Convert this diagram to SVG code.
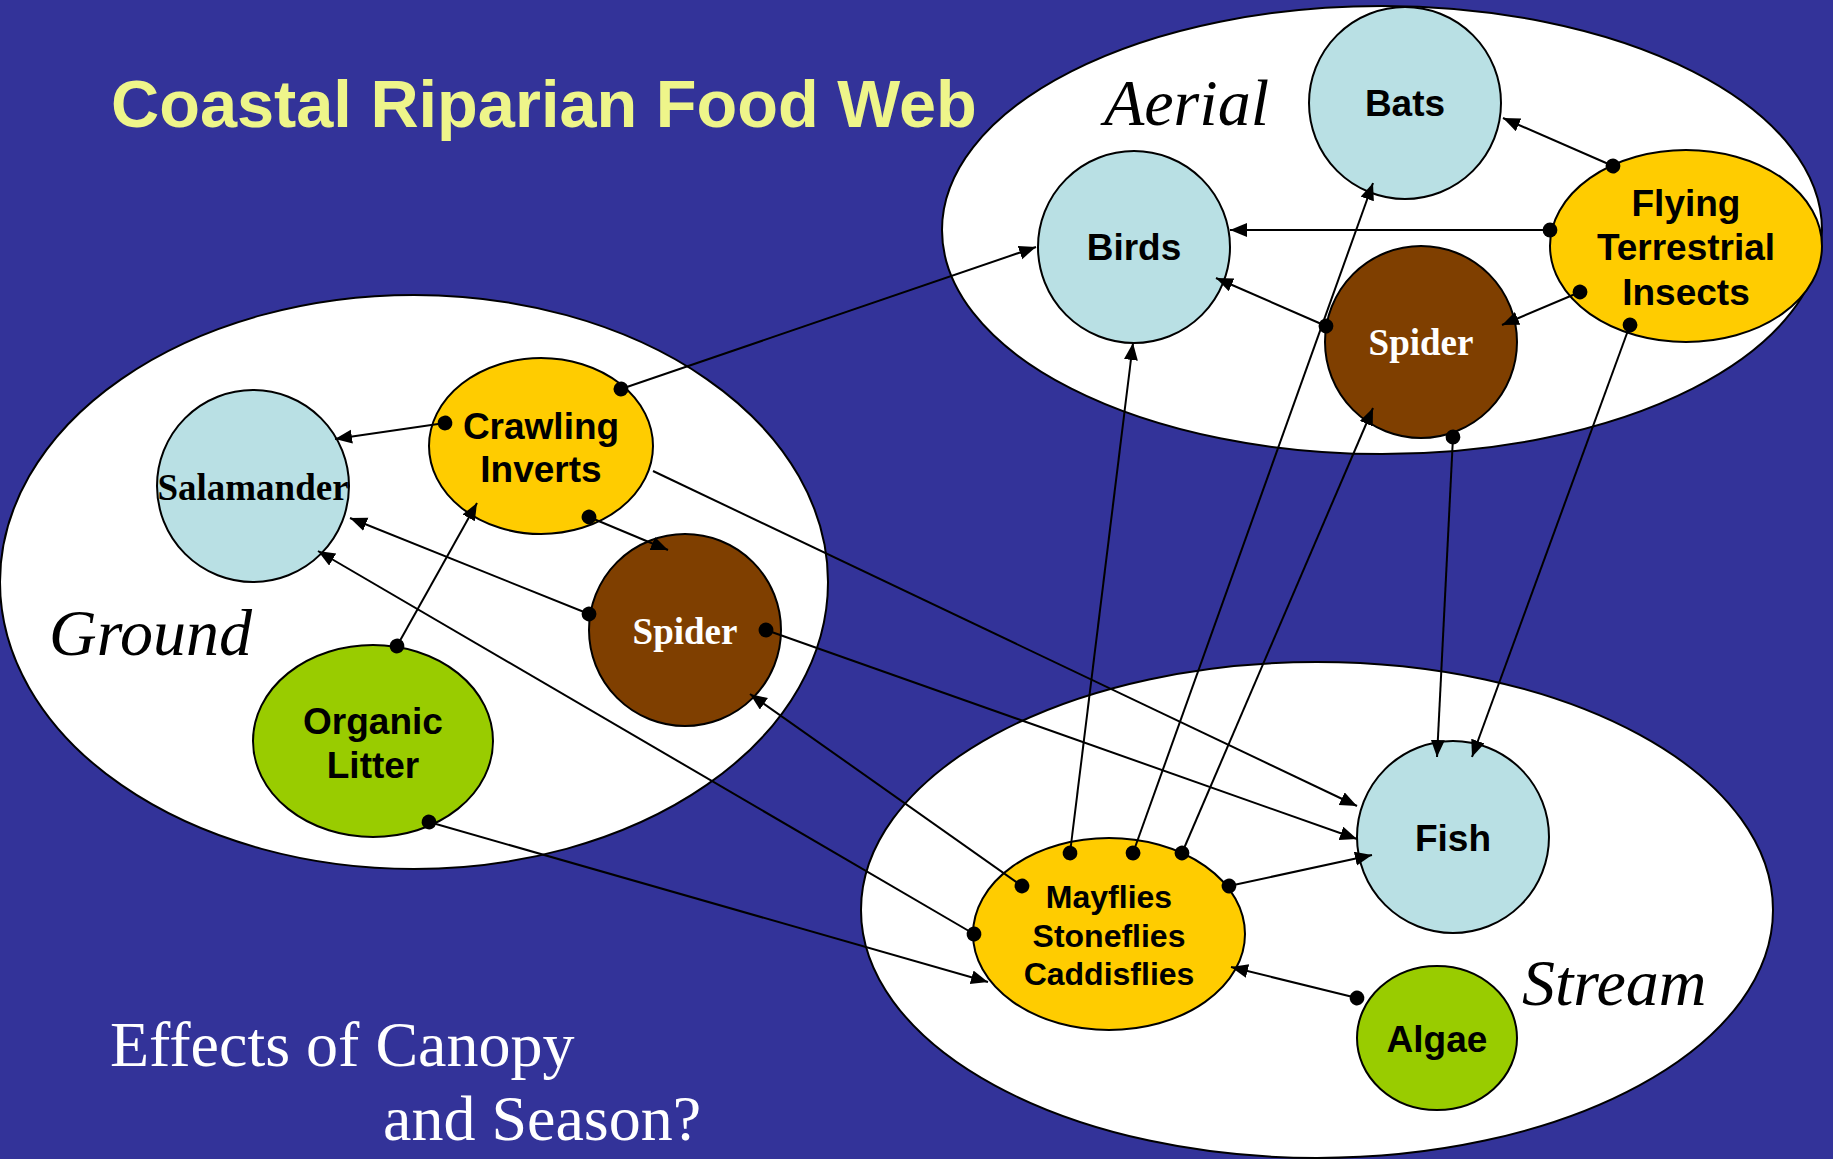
<svg xmlns="http://www.w3.org/2000/svg" width="1833" height="1159" viewBox="0 0 1833 1159">
  <defs>
    <marker id="arrow" markerUnits="userSpaceOnUse" markerWidth="20" markerHeight="16" refX="17" refY="7" orient="auto">
      <path d="M0,0 L17,7 L0,14 Z" fill="#000"/>
    </marker>
    <marker id="dot" markerUnits="userSpaceOnUse" markerWidth="18" markerHeight="18" refX="9" refY="9" orient="auto">
      <circle cx="9" cy="9" r="7.4" fill="#000"/>
    </marker>
  </defs>
  <style>
    .zone { fill: #ffffff; stroke: #000; stroke-width: 2; }
    .zlabel { font-family: "Liberation Serif", "Times New Roman", serif; font-style: italic; font-size: 66px; fill: #000; }
    .node { stroke: #000; stroke-width: 2; }
    .consumer { fill: #b9e0e4; }
    .insect { fill: #ffcc00; }
    .spider { fill: #7f3f00; }
    .plant { fill: #99cc00; }
    .lbl { font-family: "Liberation Sans", Arial, sans-serif; font-weight: bold; font-size: 37px; fill: #000; text-anchor: middle; }
    .lbl-s { font-size: 32px; }
    .serif { font-family: "Liberation Serif", "Times New Roman", serif; font-weight: bold; font-size: 37px; text-anchor: middle; }
    .link { stroke: #000; stroke-width: 2; fill: none; marker-end: url(#arrow); }
    .src { marker-start: url(#dot); }
  </style>

  <!-- background -->
  <rect width="1833" height="1159" fill="#333399"/>

  <!-- title -->
  <text x="111" y="127" font-family="Liberation Sans, Arial, sans-serif" font-weight="bold" font-size="66.7" fill="#eef58a">Coastal Riparian Food Web</text>

  <!-- habitat zones -->
  <g id="zone-aerial">
    <ellipse class="zone" cx="1382" cy="230" rx="440" ry="224"/>
    <text class="zlabel" x="1104" y="125">Aerial</text>
  </g>
  <g id="zone-ground">
    <ellipse class="zone" cx="414" cy="582" rx="414" ry="287"/>
    <text class="zlabel" x="49" y="655">Ground</text>
  </g>
  <g id="zone-stream">
    <ellipse class="zone" cx="1317" cy="910" rx="456" ry="248"/>
    <text class="zlabel" x="1522" y="1005">Stream</text>
  </g>

  <!-- organisms -->
  <g id="bats">
    <circle class="node consumer" cx="1405" cy="103" r="96"/>
    <text class="lbl" x="1405" y="116">Bats</text>
  </g>
  <g id="birds">
    <circle class="node consumer" cx="1134" cy="247" r="96"/>
    <text class="lbl" x="1134" y="260">Birds</text>
  </g>
  <g id="flying-insects">
    <ellipse class="node insect" cx="1686" cy="246" rx="136" ry="96"/>
    <text class="lbl" x="1686" y="216">Flying</text>
    <text class="lbl" x="1686" y="260">Terrestrial</text>
    <text class="lbl" x="1686" y="305">Insects</text>
  </g>
  <g id="spider-aerial">
    <circle class="node spider" cx="1421" cy="342" r="96"/>
    <text class="serif" x="1421" y="355" fill="#ffffff">Spider</text>
  </g>
  <g id="crawling-inverts">
    <ellipse class="node insect" cx="541" cy="446" rx="112" ry="88"/>
    <text class="lbl" x="541" y="439">Crawling</text>
    <text class="lbl" x="541" y="482">Inverts</text>
  </g>
  <g id="salamander">
    <circle class="node consumer" cx="253" cy="486" r="96"/>
    <text class="serif" x="253" y="500" fill="#000">Salamander</text>
  </g>
  <g id="spider-ground">
    <circle class="node spider" cx="685" cy="630" r="96"/>
    <text class="serif" x="685" y="644" fill="#ffffff">Spider</text>
  </g>
  <g id="organic-litter">
    <ellipse class="node plant" cx="373" cy="741" rx="120" ry="96"/>
    <text class="lbl" x="373" y="734">Organic</text>
    <text class="lbl" x="373" y="778">Litter</text>
  </g>
  <g id="fish">
    <circle class="node consumer" cx="1453" cy="837" r="96"/>
    <text class="lbl" x="1453" y="851">Fish</text>
  </g>
  <g id="aquatic-insects">
    <ellipse class="node insect" cx="1109" cy="934" rx="136" ry="96"/>
    <text class="lbl lbl-s" x="1109" y="908">Mayflies</text>
    <text class="lbl lbl-s" x="1109" y="947">Stoneflies</text>
    <text class="lbl lbl-s" x="1109" y="985">Caddisflies</text>
  </g>
  <g id="algae">
    <ellipse class="node plant" cx="1437" cy="1038" rx="80" ry="72"/>
    <text class="lbl" x="1437" y="1052">Algae</text>
  </g>

  <!-- feeding links: dot at the food, arrowhead at the consumer -->
  <g id="connectors">
    <line class="link src" x1="621" y1="389" x2="1036" y2="247"/>
    <line class="link src" x1="1613" y1="166" x2="1503" y2="118"/>
    <line class="link src" x1="1550" y1="230" x2="1230" y2="230"/>
    <line class="link src" x1="1580" y1="292" x2="1502" y2="325"/>
    <line class="link src" x1="1326" y1="326" x2="1216" y2="278"/>
    <line class="link src" x1="1630" y1="325" x2="1472" y2="757"/>
    <line class="link src" x1="1453" y1="437" x2="1437" y2="757"/>
    <line class="link src" x1="1070" y1="853" x2="1133" y2="343"/>
    <line class="link src" x1="1133" y1="853" x2="1373" y2="183"/>
    <line class="link src" x1="1182" y1="853" x2="1373" y2="408"/>
    <line class="link src" x1="1229" y1="886" x2="1372" y2="855"/>
    <line class="link src" x1="1357" y1="998" x2="1231" y2="967"/>
    <line class="link src" x1="1022" y1="886" x2="750" y2="694"/>
    <line class="link src" x1="974" y1="934" x2="318" y2="551"/>
    <line class="link src" x1="429" y1="822" x2="988" y2="982"/>
    <line class="link src" x1="397" y1="646" x2="477" y2="503"/>
    <line class="link src" x1="445" y1="423" x2="335" y2="439"/>
    <line class="link src" x1="589" y1="517" x2="668" y2="550"/>
    <line class="link src" x1="589" y1="614" x2="350" y2="518"/>
    <line class="link src" x1="766" y1="630" x2="1357" y2="839"/>
    <line class="link" x1="653" y1="471" x2="1357" y2="806"/>
  </g>

  <!-- closing question -->
  <text x="110" y="1066" font-family="Liberation Serif, Times New Roman, serif" font-size="64" fill="#ffffff">Effects of Canopy</text>
  <text x="383" y="1140" font-family="Liberation Serif, Times New Roman, serif" font-size="64" fill="#ffffff">and Season?</text>
</svg>
